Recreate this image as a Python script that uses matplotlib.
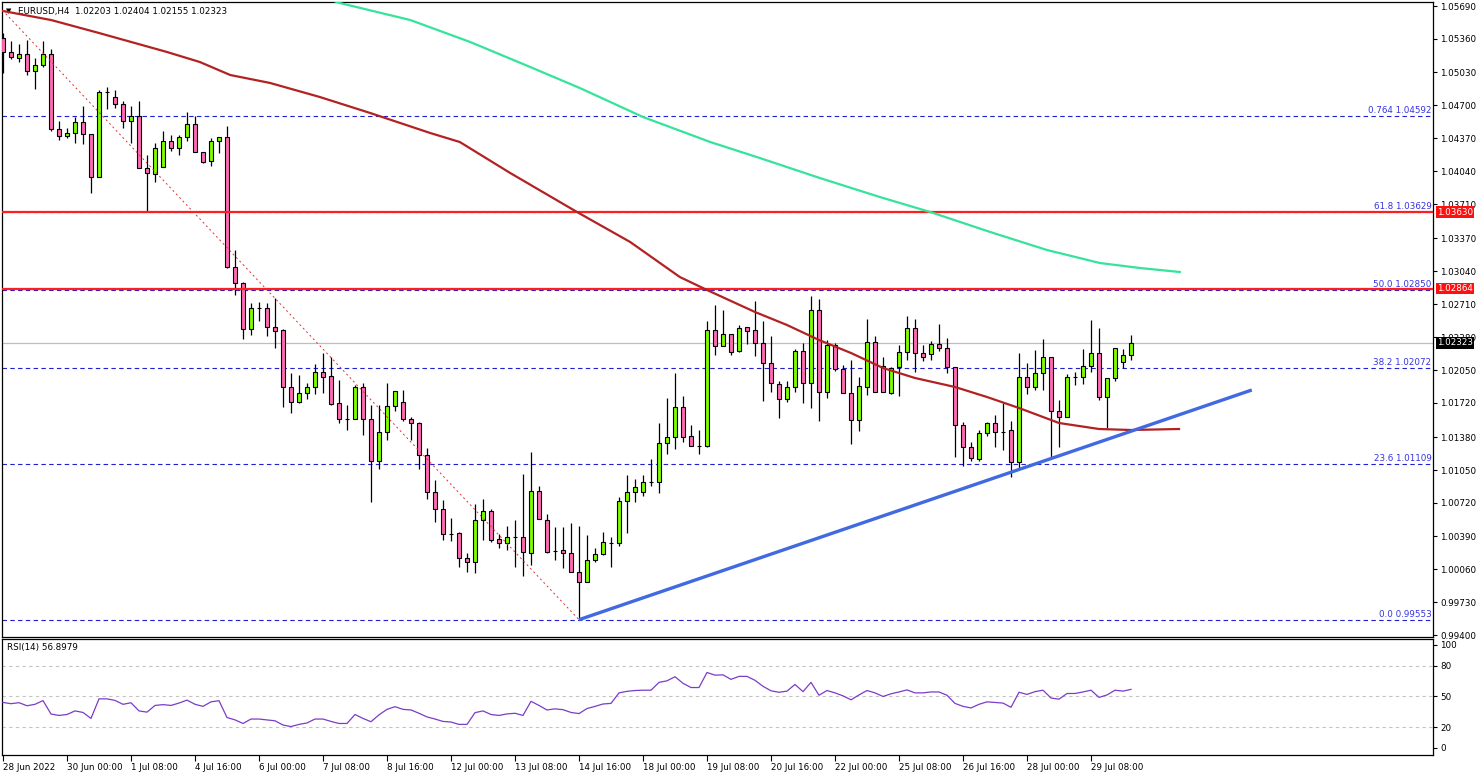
import matplotlib
matplotlib.use("Agg")
import matplotlib.pyplot as plt
import matplotlib.transforms as mtransforms
import numpy as np

plt.rcParams['font.family'] = ['DejaVu Sans']
plt.rcParams['font.size'] = 6.3

W, H = 1480, 776

# OHLC of EURUSD H4 bars
opens = [1.0537, 1.0523, 1.0517, 1.0521, 1.0504, 1.0510, 1.0521, 1.0446, 1.0439, 1.0442,
         1.0453, 1.0441, 1.0398, 1.0483, 1.0478, 1.0471, 1.0454, 1.0459, 1.0407, 1.0401,
         1.0408, 1.0434, 1.0427, 1.0438, 1.0451, 1.0423, 1.0414, 1.0434, 1.0438, 1.0308,
         1.0292, 1.0246, 1.0267, 1.0267, 1.0248, 1.0245, 1.0188, 1.0173, 1.0182, 1.0188,
         1.0203, 1.0199, 1.0172, 1.0156, 1.0156, 1.0188, 1.0156, 1.0114, 1.0143, 1.0169,
         1.0173, 1.0156, 1.0152, 1.0120, 1.0083, 1.0066, 1.0041, 1.0042, 1.0017, 1.0013,
         1.0055, 1.0064, 1.0036, 1.0032, 1.0038, 1.0038, 1.0022, 1.0084, 1.0055, 1.0024,
         1.0025, 1.0022, 1.0003, 0.9993, 1.0015, 1.0021, 1.0032, 1.0032, 1.0074, 1.0083,
         1.0083, 1.0093, 1.0093, 1.0132, 1.0138, 1.0168, 1.0139, 1.0129, 1.0129, 1.0245,
         1.0229, 1.0241, 1.0224, 1.0248, 1.0245, 1.0232, 1.0212, 1.0191, 1.0176, 1.0188,
         1.0224, 1.0192, 1.0265, 1.0183, 1.0230, 1.0206, 1.0182, 1.0155, 1.0188, 1.0233,
         1.0209, 1.0182, 1.0208, 1.0223, 1.0247, 1.0222, 1.0221, 1.0231, 1.0227, 1.0208,
         1.0150, 1.0128, 1.0116, 1.0142, 1.0152, 1.0143, 1.0145, 1.0113, 1.0198, 1.0188,
         1.0202, 1.0218, 1.0164, 1.0158, 1.0198, 1.0198, 1.0209, 1.0222, 1.0178, 1.0197,
         1.0213, 1.02203]
highs = [1.0542, 1.0534, 1.0531, 1.0535, 1.0517, 1.0534, 1.0526, 1.0454, 1.0447, 1.0458,
         1.0469, 1.0441, 1.0485, 1.0488, 1.0485, 1.0474, 1.0469, 1.0474, 1.0420, 1.0432,
         1.0444, 1.0440, 1.0440, 1.0463, 1.0459, 1.0423, 1.0437, 1.0438, 1.0449, 1.0325,
         1.0293, 1.0272, 1.0273, 1.0272, 1.0277, 1.0246, 1.0202, 1.0200, 1.0192, 1.0211,
         1.0222, 1.0218, 1.0195, 1.0170, 1.0190, 1.0192, 1.0170, 1.0170, 1.0192, 1.0184,
         1.0185, 1.0158, 1.0153, 1.0127, 1.0095, 1.0075, 1.0057, 1.0043, 1.0022, 1.0071,
         1.0076, 1.0066, 1.0041, 1.0049, 1.0055, 1.0101, 1.0123, 1.0089, 1.0061, 1.0048,
         1.0048, 1.0052, 1.0049, 1.0040, 1.0027, 1.0043, 1.0038, 1.0078, 1.0100, 1.0096,
         1.0100, 1.0116, 1.0152, 1.0177, 1.0202, 1.0179, 1.0150, 1.0145, 1.0254, 1.0270,
         1.0265, 1.0241, 1.0250, 1.0248, 1.0274, 1.0254, 1.0239, 1.0194, 1.0194, 1.0226,
         1.0232, 1.0279, 1.0276, 1.0235, 1.0232, 1.0210, 1.0215, 1.0198, 1.0256, 1.0239,
         1.0218, 1.0208, 1.0230, 1.0259, 1.0256, 1.0230, 1.0234, 1.0251, 1.0237, 1.0208,
         1.0153, 1.0133, 1.0145, 1.0153, 1.0160, 1.0172, 1.0154, 1.0222, 1.0212, 1.0225,
         1.0236, 1.0218, 1.0175, 1.0201, 1.0203, 1.0226, 1.0255, 1.0247, 1.0197, 1.0227,
         1.0226, 1.02404]
lows = [1.0502, 1.0516, 1.0513, 1.0500, 1.0486, 1.0508, 1.0444, 1.0435, 1.0437, 1.0432,
        1.0431, 1.0382, 1.0398, 1.0466, 1.0467, 1.0447, 1.0432, 1.0407, 1.0364, 1.0393,
        1.0408, 1.0424, 1.0420, 1.0434, 1.0423, 1.0412, 1.0409, 1.0422, 1.0307, 1.0280,
        1.0236, 1.0240, 1.0254, 1.0239, 1.0227, 1.0168, 1.0162, 1.0172, 1.0176, 1.0181,
        1.0182, 1.0170, 1.0152, 1.0145, 1.0156, 1.0140, 1.0073, 1.0106, 1.0135, 1.0164,
        1.0154, 1.0135, 1.0106, 1.0076, 1.0053, 1.0035, 1.0034, 1.0008, 1.0003, 1.0002,
        1.0035, 1.0033, 1.0027, 1.0025, 1.0008, 0.9999, 1.0010, 1.0056, 1.0022, 1.0015,
        1.0007, 1.0003, 0.99553, 0.9993, 1.0013, 1.0020, 1.0008, 1.0029, 1.0042, 1.0073,
        1.0079, 1.0089, 1.0082, 1.0121, 1.0126, 1.0133, 1.0129, 1.0121, 1.0128, 1.0220,
        1.0229, 1.0220, 1.0223, 1.0231, 1.0219, 1.0174, 1.0183, 1.0157, 1.0173, 1.0183,
        1.0172, 1.0167, 1.0154, 1.0177, 1.0204, 1.0182, 1.0131, 1.0144, 1.0180, 1.0183,
        1.0183, 1.0181, 1.0179, 1.0215, 1.0203, 1.0214, 1.0215, 1.0224, 1.0202, 1.0118,
        1.0109, 1.0114, 1.0114, 1.0139, 1.0128, 1.0125, 1.0098, 1.0107, 1.0181, 1.0185,
        1.0185, 1.0118, 1.0128, 1.0158, 1.0190, 1.0191, 1.0203, 1.0175, 1.0147, 1.0194,
        1.0207, 1.02155]
closes = [1.0523, 1.0518, 1.0521, 1.0504, 1.0510, 1.0521, 1.0446, 1.0439, 1.0442, 1.0453,
          1.0441, 1.0398, 1.0483, 1.0483, 1.0471, 1.0454, 1.0459, 1.0407, 1.0402, 1.0427,
          1.0434, 1.0427, 1.0438, 1.0451, 1.0423, 1.0413, 1.0434, 1.0438, 1.0308, 1.0292,
          1.0246, 1.0267, 1.0267, 1.0248, 1.0244, 1.0188, 1.0173, 1.0182, 1.0188, 1.0203,
          1.0198, 1.0171, 1.0156, 1.0156, 1.0188, 1.0156, 1.0114, 1.0143, 1.0169, 1.0184,
          1.0156, 1.0152, 1.0120, 1.0083, 1.0066, 1.0041, 1.0041, 1.0017, 1.0013, 1.0055,
          1.0064, 1.0035, 1.0032, 1.0038, 1.0038, 1.0023, 1.0084, 1.0056, 1.0023, 1.0024,
          1.0022, 1.0003, 0.9993, 1.0015, 1.0021, 1.0033, 1.0032, 1.0074, 1.0083, 1.0088,
          1.0093, 1.0093, 1.0132, 1.0138, 1.0168, 1.0138, 1.0129, 1.0129, 1.0245, 1.0229,
          1.0241, 1.0223, 1.0247, 1.0244, 1.0232, 1.0212, 1.0192, 1.0176, 1.0188, 1.0224,
          1.0192, 1.0265, 1.0183, 1.0230, 1.0206, 1.0182, 1.0155, 1.0189, 1.0233, 1.0183,
          1.0183, 1.0207, 1.0223, 1.0247, 1.0222, 1.0218, 1.0231, 1.0227, 1.0208, 1.0150,
          1.0128, 1.0117, 1.0142, 1.0152, 1.0143, 1.0143, 1.0113, 1.0198, 1.0188, 1.0202,
          1.0218, 1.0164, 1.0158, 1.0198, 1.0198, 1.0209, 1.0222, 1.0178, 1.0197, 1.0227,
          1.0220, 1.02323]

rsi = [44.2, 43, 44, 41, 42.4, 46, 33, 31.6, 32.5, 36,
       34.5, 28.7, 47.7, 47.7, 46.2, 42.4, 43.9, 36, 34.8, 41.3,
       42.1, 41.3, 43.6, 46.5, 42.4, 40.4, 44.8, 45.9, 29.6, 27.3,
       23.8, 28.1, 28.1, 27.3, 26.4, 22.3, 20.8, 22.9, 24.3, 28.1,
       28.1, 25.8, 23.8, 23.8, 32.5, 28.7, 25.5, 32.2, 37.5, 40.1,
       37.5, 36.9, 33.7, 30.2, 28.1, 25.8, 25.2, 22.9, 22.9, 34.3,
       36, 32.5, 31.6, 33.1, 33.7, 31.6, 45.3, 41.3, 36.9, 38,
       37.2, 34.5, 33.4, 38.3, 40.4, 42.7, 43.3, 53.5, 55, 55.8,
       56.1, 56.1, 63.7, 65.2, 69.2, 62.8, 58.7, 58.7, 73.3, 70.7,
       71, 66.6, 69.5, 69.5, 65.7, 59.9, 55.5, 54.1, 55.2, 61.7,
       54.7, 63.7, 51.2, 55.8, 53.5, 50.6, 46.8, 51.5, 55.8, 53.5,
       50, 52.6, 54.4, 56.4, 53.5, 53.5, 54.4, 54.4, 51.2, 43.3,
       40.4, 38.9, 42.4, 44.8, 44.2, 43.6, 39.5, 54.1, 52, 54.7,
       56.1, 48.5, 47.4, 52.9, 52.9, 54.4, 56.1, 49.1, 51.5, 56.1,
       55.2, 56.9]

# moving averages (bar position, value)
ma_red_x = [0, 6, 12, 20.5, 24.6, 28.4, 33.4, 39.6, 45.9, 53.4, 57.1, 63.4, 71.75,
            78.4, 84.6, 88, 94, 98, 102, 106, 110, 114, 119, 123, 127, 132, 137, 141, 147]
ma_red_y = [1.0564, 1.0555, 1.0542, 1.0523, 1.0513, 1.0500, 1.0492, 1.0478, 1.0462,
            1.0442, 1.0433, 1.0402, 1.0363, 1.0333, 1.0298, 1.0285, 1.0263, 1.0250,
            1.0235, 1.0222, 1.0207, 1.0197, 1.0188, 1.0178, 1.0167, 1.0152, 1.0146,
            1.0145, 1.0146]
ma_green_x = [41, 42.1, 50.9, 58.4, 65.9, 72.1, 80, 88.4, 94.6, 102.1, 109.6, 115.9,
              123.4, 130.5, 137.1, 142.1, 147.1]
ma_green_y = [1.0575, 1.0572, 1.0555, 1.0533, 1.0508, 1.0487, 1.0458, 1.0433, 1.0417,
              1.0397, 1.0378, 1.0363, 1.0343, 1.0325, 1.0312, 1.0307, 1.0303]

fib_labels = ["0.764 1.04592", "61.8 1.03629", "50.0 1.02850", "38.2 1.02072",
              "23.6 1.01109", "0.0 0.99553"]
fib_values = [1.04592, 1.03629, 1.02850, 1.02072, 1.01109, 0.99553]
res_values = [1.03630, 1.02864]
last_price = 1.02323

price_ticks = [1.05690, 1.05360, 1.05030, 1.04700, 1.04370, 1.04040, 1.03710, 1.03370,
               1.03040, 1.02710, 1.02380, 1.02050, 1.01720, 1.01380, 1.01050, 1.00720,
               1.00390, 1.00060, 0.99730, 0.99400]
rsi_ticks = [0, 20, 50, 80, 100]
date_pos = list(range(0, 137, 8))
date_labels = ["28 Jun 2022", "30 Jun 00:00", "1 Jul 08:00", "4 Jul 16:00", "6 Jul 00:00",
               "7 Jul 08:00", "8 Jul 16:00", "12 Jul 00:00", "13 Jul 08:00", "14 Jul 16:00",
               "18 Jul 00:00", "19 Jul 08:00", "20 Jul 16:00", "22 Jul 00:00", "25 Jul 08:00",
               "26 Jul 16:00", "28 Jul 00:00", "29 Jul 08:00"]

fig = plt.figure(figsize=(W / 100, H / 100), dpi=100)
ax = fig.add_axes([2 / W, 1 - 637 / H, 1431 / W, 635 / H])
ax2 = fig.add_axes([2 / W, 1 - 755 / H, 1431 / W, 116 / H])
xmin, xmax = -0.125, 178.75

# --- price panel ---
o = np.array(opens); h = np.array(highs); l = np.array(lows); c = np.array(closes)
idx = np.arange(len(o))
body_col = np.where(c > o, '#7CFC00', np.where(c < o, '#FF69B4', 'black'))

for v in fib_values:
    ax.axhline(v, color='#2020D0', lw=0.8, ls=(0, (4, 3)), zorder=1)
ax.axhline(last_price, color='#BDBDBD', lw=0.9, zorder=1)

ax.vlines(idx, l, h, color='black', lw=0.9, zorder=3)
ax.bar(idx, np.abs(c - o), bottom=np.minimum(o, c), width=0.62, color=body_col,
       edgecolor='black', linewidth=0.8, zorder=4)

for v in res_values:
    ax.axhline(v, color='#FF1E1E', lw=1.6, zorder=5)

ax.plot(ma_red_x, ma_red_y, color='#B22222', lw=1.6, zorder=6)
ax.plot(ma_green_x, ma_green_y, color='#35E39A', lw=1.6, zorder=6)
ax.plot([-6, 72], [1.06149, 0.99553], color='#E03030', lw=0.7, ls=(0, (2, 3)), zorder=6)
ax.plot([72, 156.1], [0.99553, 1.0185], color='#4169E1', lw=2.4, zorder=7,
        solid_capstyle='butt')

for lab, v in zip(fib_labels, fib_values):
    ax.text(xmax - 0.2, v + 0.00008, lab, color='#3434E0', ha='right', va='bottom',
            fontsize=6.3, zorder=8)

ax.set_xlim(xmin, xmax)
ax.set_ylim(0.9938, 1.0573)
ax.yaxis.tick_right()
ax.set_yticks(price_ticks, [f"{t:.5f}" for t in price_ticks])
ax.tick_params(axis='y', direction='out', length=3, width=0.8, pad=2, labelsize=6.3)
ax.tick_params(axis='x', bottom=False, labelbottom=False)

trans = mtransforms.blended_transform_factory(ax.transAxes, ax.transData)
for v in res_values:
    ax.text(1.0028, v, f"{v:.5f}", transform=trans, color='white', ha='left',
            va='center', fontsize=6.3, clip_on=False, zorder=20,
            bbox=dict(boxstyle='square,pad=0.15', fc='#FF1010', ec='none'))
ax.text(1.0028, last_price, f"{last_price:.5f}", transform=trans, color='white',
        ha='left', va='center', fontsize=6.3, clip_on=False, zorder=20,
        bbox=dict(boxstyle='square,pad=0.15', fc='black', ec='none'))

ax.text(0.0045, 0.9858, '\u25BC', transform=ax.transAxes, fontsize=5, ha='center',
        va='center', color='black')
ax.text(0.0112, 0.9858, 'EURUSD,H4  1.02203 1.02404 1.02155 1.02323',
        transform=ax.transAxes, ha='left', va='center', fontsize=6.3)

# --- RSI panel ---
for v in [20, 50, 80]:
    ax2.axhline(v, color='#C4C4C4', lw=0.8, ls=(0, (3, 3)), zorder=1)
ax2.plot(np.arange(len(rsi)), rsi, color='#7B3CC8', lw=0.9, zorder=3)
ax2.set_xlim(xmin, xmax)
ax2.set_ylim(-6.8, 105.8)
ax2.yaxis.tick_right()
ax2.set_yticks(rsi_ticks, [str(t) for t in rsi_ticks])
ax2.tick_params(axis='y', direction='out', length=3, width=0.8, pad=2, labelsize=6.3)
ax2.set_xticks(date_pos, date_labels)
ax2.tick_params(axis='x', direction='out', length=4, width=0.8, pad=2, labelsize=6.3)
for lbl in ax2.get_xticklabels():
    lbl.set_ha('left')
ax2.text(0.0035, 0.93, 'RSI(14) 56.8979', transform=ax2.transAxes, ha='left',
         va='center', fontsize=6.3)

for a in (ax, ax2):
    for s in a.spines.values():
        s.set_color('black')
        s.set_linewidth(0.9)

fig.savefig('out.png', dpi=100)
